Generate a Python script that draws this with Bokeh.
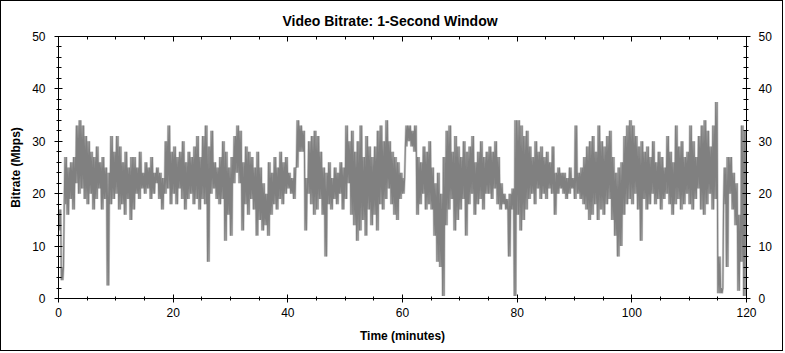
from bokeh.plotting import figure
from bokeh.models import Range1d, LinearAxis, SingleIntervalTicker, ColumnDataSource
from bokeh.embed import file_html
from bokeh.resources import INLINE

# Time bins (minutes, every 0.5 min) and the low/high bitrate (Mbps) in each bin
t_min = [i * 0.5 for i in range(241)]
low_mbps = [
    13, 3.5, 18, 16, 19, 17, 22, 20, 21, 19,
    18, 20, 17, 19, 21, 17, 19, 2.5, 18, 19,
    20, 17, 18, 16, 19, 15, 17, 20, 19, 21,
    20, 21, 19, 20, 22, 19, 17, 20, 21, 18,
    20, 18, 21, 19, 17, 19, 20, 18, 19, 17,
    19, 18, 7, 20, 21, 19, 18, 19, 11, 16,
    12, 22, 24, 22, 13, 18, 16, 19, 17, 12,
    15, 13, 14, 12, 16, 18, 17, 19, 18, 20,
    21, 20, 19, 25, 28, 28, 13, 20, 18, 16,
    17, 19, 16, 8, 18, 17, 19, 18, 20, 17,
    19, 22, 16, 14, 11, 13, 15, 12, 17, 14,
    16, 13, 18, 17, 19, 21, 18, 16, 15, 19,
    20, 29, 30, 29, 28, 16, 18, 20, 17, 18,
    17, 12, 7, 6, 0.5, 14, 17, 19, 13, 15,
    17, 19, 12, 18, 20, 16, 18, 19, 17, 20,
    20, 19, 21, 18, 17, 18, 17, 8, 17, 0.5,
    16, 13, 15, 17, 19, 20, 18, 21, 19, 20,
    19, 21, 20, 16, 20, 21, 20, 19, 20, 21,
    19, 20, 19, 18, 17, 15, 16, 18, 15, 17,
    16, 18, 19, 15, 12, 8, 10, 16, 18, 19,
    18, 20, 17, 11, 19, 17, 18, 20, 18, 19,
    17, 19, 20, 18, 16, 18, 19, 17, 18, 20,
    18, 17, 19, 21, 17, 16, 18, 20, 17, 19,
    1, 1, 18, 6, 20, 17, 14, 1.5, 7, 0.5, 15,
]
high_mbps = [
    17, 6, 27, 25, 26, 27, 33, 34, 33, 31,
    30, 28, 27, 29, 26, 27, 25, 24, 31, 28,
    31, 29, 26, 28, 25, 27, 27, 25, 28, 24,
    26, 25, 27, 24, 25, 24, 23, 30, 33, 28,
    29, 27, 28, 30, 26, 28, 27, 29, 31, 27,
    31, 33, 29, 32, 26, 25, 27, 30, 28, 25,
    27, 31, 33, 32, 26, 29, 28, 27, 25, 28,
    25, 22, 20, 26, 24, 27, 25, 28, 26, 27,
    24, 23, 25, 34, 33, 32, 23, 30, 31, 32,
    31, 28, 25, 24, 26, 23, 25, 24, 26, 25,
    33, 30, 32, 28, 30, 33, 27, 31, 29, 27,
    29, 32, 33, 30, 34, 30, 28, 27, 26, 24,
    23, 33, 33, 32, 33, 27, 26, 29, 28, 30,
    25, 22, 24, 20, 27, 32, 33, 28, 31, 29,
    27, 30, 28, 29, 31, 26, 28, 30, 27, 28,
    29, 28, 30, 27, 22, 20, 19, 20, 21, 34,
    34, 33, 31, 32, 29, 27, 30, 28, 29, 27,
    28, 26, 29, 24, 25, 24, 24, 23, 25, 23,
    33, 24, 25, 27, 29, 30, 31, 28, 33, 30,
    29, 31, 32, 27, 24, 25, 26, 31, 33, 34,
    33, 31, 29, 30, 28, 29, 27, 30, 26, 28,
    27, 25, 31, 28, 26, 33, 29, 30, 27, 28,
    33, 30, 27, 31, 33, 34, 32, 29, 33, 37.5,
    8, 2, 25, 27, 27, 24, 22, 16, 33, 32, 31,
]

# dense zig-zag path: inside each 0.5-min bin the trace swings low/high twice
xs, ys = [], []
for t, lo, hi in zip(t_min, low_mbps, high_mbps):
    xs += [t, t + 0.125, t + 0.25, t + 0.375]
    ys += [lo, hi, lo, hi]
src = ColumnDataSource(dict(x=xs, y=ys))

FONT = "Liberation Sans"

p = figure(width=783, height=351, output_backend="svg", toolbar_location=None,
           x_range=Range1d(0, 120), y_range=Range1d(0, 50),
           x_axis_location=None, y_axis_location=None,
           min_border_left=57, min_border_right=38, min_border_top=35, min_border_bottom=54)
p.styles = {"border": "1px solid black"}
p.background_fill_color = "white"
p.border_fill_color = "white"
p.outline_line_color = None
p.xgrid.visible = False
p.ygrid.visible = False

p.title.text = "Video Bitrate: 1-Second Window"
p.title.align = "left"
p.title.offset = 224
p.title.standoff = 16
p.title.text_font = FONT
p.title.text_font_size = "14px"
p.title.text_font_style = "bold"
p.title.text_color = "black"

p.line("x", "y", source=src, line_color="#cccccc", line_width=2.4)
p.line("x", "y", source=src, line_color="#808080", line_width=1.1)


def style(ax):
    ax.axis_line_color = "black"
    ax.major_tick_line_color = "black"
    ax.minor_tick_line_color = "black"
    ax.major_label_text_font = FONT
    ax.major_label_text_font_size = "12px"
    ax.major_label_text_color = "black"
    ax.axis_label_text_font = FONT
    ax.axis_label_text_font_size = "12px"
    ax.axis_label_text_font_style = "bold"
    ax.axis_label_text_color = "black"


yt = SingleIntervalTicker(interval=10, num_minor_ticks=5)
xt = SingleIntervalTicker(interval=20, num_minor_ticks=4)

left = LinearAxis(ticker=yt, axis_label="Bitrate (Mbps)")
style(left)
left.major_tick_in, left.major_tick_out = 4, 4
left.minor_tick_in, left.minor_tick_out = 3, 2
left.major_label_standoff = 9
left.axis_label_standoff = 6
p.add_layout(left, "left")

right = LinearAxis(ticker=yt)
style(right)
right.major_tick_in, right.major_tick_out = 4, 4
right.minor_tick_in, right.minor_tick_out = 3, 2
right.major_label_standoff = 8
p.add_layout(right, "right")

bottom = LinearAxis(ticker=xt, axis_label="Time (minutes)")
style(bottom)
bottom.major_tick_in, bottom.major_tick_out = 4, 4
bottom.minor_tick_in, bottom.minor_tick_out = 2, 2
bottom.major_label_standoff = 5
bottom.axis_label_standoff = 9
p.add_layout(bottom, "below")

top = LinearAxis(ticker=xt)
style(top)
top.major_label_overrides = {v: "" for v in range(0, 121, 20)}
top.major_tick_in, top.major_tick_out = 5, 0
top.minor_tick_in, top.minor_tick_out = 3, 0
top.major_label_standoff = 0
p.add_layout(top, "above")

open("out.html", "w").write(file_html(p, INLINE))
